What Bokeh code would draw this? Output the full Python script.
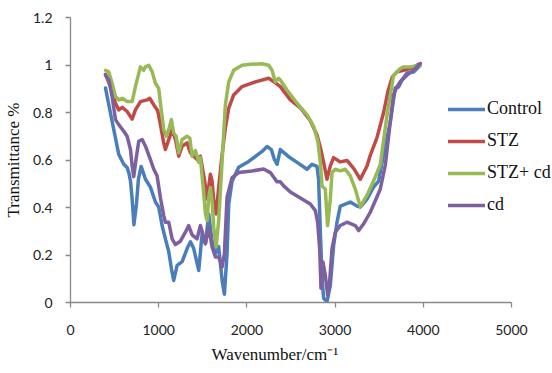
from bokeh.plotting import figure
from bokeh.models import Legend, LegendItem, CustomJSTickFormatter, FixedTicker, Range1d, Title
from bokeh.embed import file_html
from bokeh.resources import INLINE

# ---- data ----
ctrl_x = [397, 472, 547, 604, 642, 661, 680, 699, 719, 748, 770, 801, 850, 906, 963, 1000, 1039, 1076,
          1114, 1144, 1170, 1209, 1266, 1322, 1360, 1397, 1454, 1492, 1530, 1567, 1605, 1643, 1680, 1719,
          1745, 1775, 1794, 1832, 1907, 2020, 2172, 2229, 2277, 2311, 2342, 2379, 2470, 2569, 2682, 2738,
          2795, 2813, 2833, 2852, 2870, 2908, 2946, 2983, 3022, 3059, 3172, 3248, 3286, 3362, 3436, 3493,
          3550, 3626, 3682, 3720, 3758, 3815, 3890, 3966]
ctrl_y = [0.903, 0.762, 0.624, 0.582, 0.568, 0.547, 0.512, 0.435, 0.327, 0.415, 0.519, 0.573, 0.519, 0.486,
          0.423, 0.402, 0.323, 0.268, 0.214, 0.143, 0.093, 0.156, 0.172, 0.227, 0.256, 0.227, 0.135, 0.289,
          0.248, 0.373, 0.260, 0.206, 0.235, 0.093, 0.035, 0.206, 0.415, 0.511, 0.569, 0.594, 0.636, 0.657,
          0.644, 0.603, 0.582, 0.644, 0.615, 0.590, 0.561, 0.582, 0.573, 0.519, 0.298, 0.101, 0.018, 0.003,
          0.072, 0.239, 0.339, 0.406, 0.423, 0.406, 0.402, 0.435, 0.486, 0.511, 0.624, 0.761, 0.903, 0.907,
          0.937, 0.966, 0.970, 0.999]

stz_x = [397, 453, 510, 547, 586, 642, 699, 736, 793, 869, 898, 944, 989, 1020, 1057, 1076, 1114, 1152,
         1190, 1227, 1266, 1322, 1360, 1397, 1435, 1473, 1492, 1518, 1549, 1586, 1605, 1624, 1651, 1680,
         1719, 1756, 1794, 1850, 1945, 2096, 2247, 2323, 2379, 2493, 2606, 2719, 2795, 2833, 2870, 2908,
         2946, 2983, 3059, 3135, 3210, 3286, 3362, 3399, 3475, 3550, 3600, 3650, 3702, 3776, 3852, 3966]
stz_y = [0.961, 0.909, 0.839, 0.811, 0.822, 0.804, 0.772, 0.811, 0.846, 0.853, 0.860, 0.832, 0.807, 0.749,
         0.672, 0.644, 0.686, 0.728, 0.686, 0.616, 0.658, 0.672, 0.630, 0.616, 0.602, 0.616, 0.575, 0.519,
         0.436, 0.540, 0.512, 0.428, 0.373, 0.484, 0.623, 0.735, 0.818, 0.874, 0.909, 0.929, 0.944, 0.925,
         0.909, 0.853, 0.820, 0.765, 0.705, 0.653, 0.590, 0.519, 0.575, 0.610, 0.592, 0.598, 0.565, 0.519,
         0.575, 0.620, 0.694, 0.800, 0.890, 0.950, 0.971, 0.978, 0.985, 1.006]

stzcd_x = [397, 434, 472, 510, 547, 586, 642, 699, 736, 793, 830, 850, 887, 926, 963, 1000, 1020, 1057,
           1088, 1114, 1144, 1170, 1198, 1227, 1266, 1322, 1352, 1379, 1416, 1454, 1473, 1511, 1530, 1549,
           1567, 1586, 1605, 1624, 1651, 1680, 1719, 1756, 1794, 1850, 1945, 2039, 2172, 2247, 2285, 2323,
           2360, 2379, 2455, 2569, 2682, 2757, 2804, 2833, 2852, 2889, 2915, 2946, 2965, 3003, 3059, 3116,
           3172, 3229, 3286, 3362, 3436, 3512, 3589, 3663, 3739, 3776, 3852, 3966]
stzcd_y = [0.978, 0.971, 0.923, 0.867, 0.853, 0.860, 0.846, 0.846, 0.909, 0.992, 0.978, 0.992, 0.999, 0.971,
           0.923, 0.902, 0.839, 0.728, 0.700, 0.728, 0.770, 0.714, 0.700, 0.630, 0.686, 0.700, 0.693, 0.616,
           0.640, 0.590, 0.610, 0.456, 0.373, 0.345, 0.443, 0.484, 0.428, 0.317, 0.234, 0.345, 0.595, 0.832,
           0.929, 0.978, 0.999, 1.003, 1.005, 0.999, 0.978, 0.929, 0.944, 0.937, 0.895, 0.839, 0.790, 0.742,
           0.680, 0.590, 0.491, 0.477, 0.324, 0.436, 0.547, 0.561, 0.554, 0.561, 0.533, 0.477, 0.404, 0.452,
           0.512, 0.580, 0.790, 0.957, 0.985, 0.992, 0.992, 0.999]

cd_x = [397, 434, 472, 510, 547, 604, 642, 680, 699, 717, 748, 774, 812, 850, 906, 944, 982, 1020, 1057,
        1076, 1114, 1152, 1190, 1246, 1303, 1340, 1379, 1435, 1473, 1492, 1530, 1567, 1605, 1643, 1680,
        1719, 1745, 1775, 1832, 1907, 2059, 2190, 2266, 2342, 2379, 2417, 2493, 2606, 2719, 2776, 2802,
        2825, 2840, 2862, 2889, 2915, 2938, 2965, 3003, 3059, 3135, 3229, 3267, 3323, 3399, 3512, 3570,
        3626, 3663, 3702, 3739, 3815, 3890, 3966]
cd_y = [0.957, 0.937, 0.867, 0.770, 0.749, 0.721, 0.700, 0.644, 0.575, 0.530, 0.616, 0.679, 0.686, 0.658,
        0.602, 0.561, 0.533, 0.440, 0.366, 0.338, 0.338, 0.268, 0.244, 0.258, 0.296, 0.324, 0.285, 0.268,
        0.324, 0.300, 0.248, 0.317, 0.234, 0.192, 0.192, 0.150, 0.206, 0.443, 0.526, 0.547, 0.554, 0.562,
        0.547, 0.508, 0.508, 0.491, 0.465, 0.440, 0.415, 0.387, 0.338, 0.227, 0.060, 0.171, 0.115, 0.032,
        0.088, 0.227, 0.296, 0.324, 0.338, 0.324, 0.303, 0.331, 0.380, 0.477, 0.580, 0.762, 0.874, 0.909,
        0.930, 0.957, 0.978, 1.006]

series_names = ["Control", "STZ", "STZ+ cd", "cd"]
series_colors = ["#4A7EBB", "#BE4B48", "#98B954", "#7D60A0"]
x_ticks = [0, 1000, 2000, 3000, 4000, 5000]
y_ticks = [0, 0.2, 0.4, 0.6, 0.8, 1.0, 1.2]
x_axis_end = 5000
x_view_end = 5465   # plot area continues right of the axis end so the legend can sit there

p = figure(width=552, height=373, output_backend="svg", toolbar_location=None,
           x_range=Range1d(0, x_view_end), y_range=Range1d(0, 1.2),
           min_border_left=70, min_border_right=0, min_border_top=17, min_border_bottom=69)
p.outline_line_color = None
p.background_fill_color = "white"
p.border_fill_color = "white"
p.xgrid.visible = False
p.ygrid.visible = False

renderers = []
for xs, ys, c in zip([ctrl_x, stz_x, stzcd_x, cd_x], [ctrl_y, stz_y, stzcd_y, cd_y], series_colors):
    r = p.line(xs, ys, line_color=c, line_width=3.5, line_join="round", line_cap="round")
    renderers.append(r)

for ax in (p.xaxis[0], p.yaxis[0]):
    ax.axis_line_color = "#898989"
    ax.axis_line_width = 1.3
    ax.major_tick_line_color = "#898989"
    ax.major_tick_line_width = 1.3
    ax.major_tick_out = 5
    ax.major_tick_in = 0
    ax.minor_tick_line_color = None
    ax.major_label_text_font = "Lato"
    ax.major_label_text_font_size = "14px"
    ax.major_label_text_color = "#222222"
    ax.axis_label_text_font = "Liberation Serif"
    ax.axis_label_text_font_size = "17px"
    ax.axis_label_text_font_style = "normal"
    ax.axis_label_text_color = "#111111"

p.xaxis.bounds = (0, x_axis_end)
p.xaxis.ticker = FixedTicker(ticks=x_ticks)
p.yaxis.ticker = FixedTicker(ticks=y_ticks)
p.yaxis.formatter = CustomJSTickFormatter(code="return (Math.round(tick*10)/10).toString();")
p.yaxis.axis_label = "Transmittance %"
p.xaxis.major_label_standoff = 17
p.yaxis.major_label_standoff = 13
p.yaxis.axis_label_standoff = 7

# x-axis title: centred under the 0-5000 axis (not the whole plot area)
xtitle = Title(text="Wavenumber/cm\u207b\u00b9", align="left", offset=141,
               text_font="Liberation Serif", text_font_size="17px", text_font_style="normal",
               text_color="#111111", standoff=5, vertical_align="top")
try:
    xtitle.padding = 5
    xtitle.offset = 136
except Exception:
    pass
p.add_layout(xtitle, "below")

legend = Legend(items=[LegendItem(label=n, renderers=[r]) for n, r in zip(series_names, renderers)],
                location=(378, 87), orientation="vertical")
legend.background_fill_alpha = 0
legend.border_line_color = None
legend.padding = 0
legend.margin = 0
legend.spacing = 11
legend.glyph_width = 37
legend.glyph_height = 20
legend.label_height = 20
legend.label_standoff = 2
legend.label_text_font = "Liberation Serif"
legend.label_text_font_size = "18px"
legend.label_text_color = "#111111"
p.add_layout(legend, "center")

open("out.html", "w").write(file_html(p, INLINE))
